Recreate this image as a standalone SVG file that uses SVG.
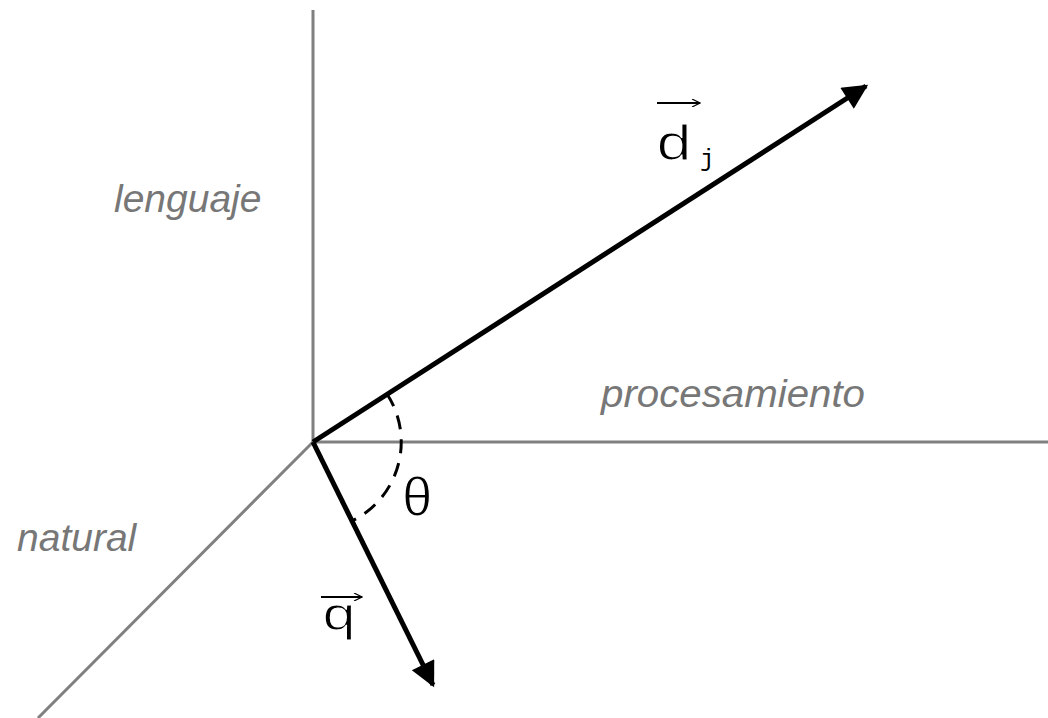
<svg xmlns="http://www.w3.org/2000/svg" width="1048" height="718" viewBox="0 0 1048 718">
<style>
.axis{stroke:#808080;stroke-width:3;fill:none}
.vec{stroke:#000;stroke-width:5;fill:none}
.lbl{font-family:"Liberation Sans",Arial,sans-serif;font-style:italic;font-size:39px;fill:#777}
.mono{font-family:"Liberation Mono","Courier New",monospace;fill:#000;stroke:#fff;stroke-width:1.1}
.sub{font-family:"Liberation Mono","Courier New",monospace;fill:#000;font-size:24px}
.ov{stroke:#000;stroke-width:2;fill:none}
</style>
<defs>
<marker id="ah" viewBox="0 0 10 10" refX="9" refY="5" markerWidth="6" markerHeight="5" markerUnits="strokeWidth" orient="auto">
<path d="M0,0 L10,5 L0,10 Z" fill="#000"/>
</marker>
<marker id="sa" viewBox="0 0 10 10" refX="10" refY="5" markerWidth="10" markerHeight="8" markerUnits="userSpaceOnUse" orient="auto">
<path d="M0,0 L10,5 L0,10" fill="none" stroke="#000" stroke-width="1.5"/>
</marker>
</defs>
<g id="axes">
<line class="axis" x1="313" y1="10" x2="313" y2="442"/>
<line class="axis" x1="313" y1="442" x2="1048" y2="442"/>
<line class="axis" x1="313" y1="442" x2="38" y2="718"/>
</g>
<g id="labels">
<text class="lbl" x="114" y="212">lenguaje</text>
<text class="lbl" x="601" y="407" textLength="264" lengthAdjust="spacingAndGlyphs">procesamiento</text>
<text class="lbl" x="17" y="551">natural</text>
</g>
<g id="connectors">
<line class="vec" x1="313" y1="442" x2="866" y2="86" marker-end="url(#ah)"/>
<line class="vec" x1="313" y1="442" x2="433" y2="685" marker-end="url(#ah)"/>
<path d="M387,394 A88,88 0 0 1 352,521" stroke="#000" stroke-width="3" fill="none" stroke-dasharray="14,10"/>
</g>
<g id="theta">
<text class="mono" x="401" y="515" font-size="54">θ</text>
</g>
<g id="dj">
<line class="ov" x1="657" y1="103" x2="700" y2="103" marker-end="url(#sa)"/>
<text class="mono" x="655" y="160" font-size="50" textLength="38" lengthAdjust="spacingAndGlyphs">d</text>
<text class="sub" x="700" y="166">j</text>
</g>
<g id="q">
<line class="ov" x1="321" y1="597" x2="362" y2="597" marker-end="url(#sa)"/>
<text class="mono" x="321" y="630" font-size="46" textLength="36" lengthAdjust="spacingAndGlyphs">q</text>
</g>
</svg>
